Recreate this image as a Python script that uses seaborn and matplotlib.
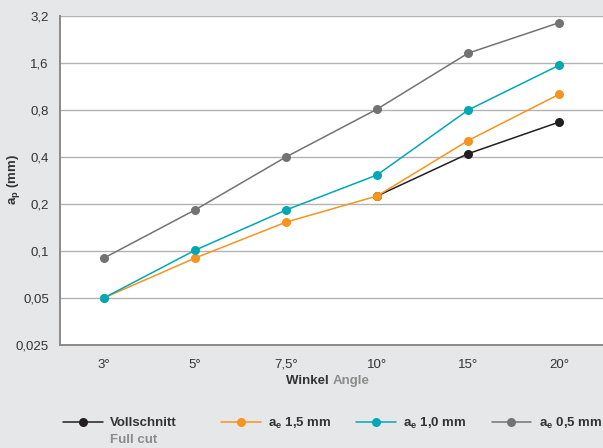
import matplotlib
matplotlib.use("Agg")
import matplotlib.pyplot as plt
from matplotlib.lines import Line2D
import numpy as np
import pandas as pd
import seaborn as sns

# ----- data -----
angles = ["3°", "5°", "7,5°", "10°", "15°", "20°"]
series_names = ["Vollschnitt", "$a_e$ 1,5 mm", "$a_e$ 1,0 mm", "$a_e$ 0,5 mm"]
full_cut = [None, None, None, 0.225, 0.42, 0.67]
ae_15 = [0.05, 0.09, 0.153, 0.225, 0.51, 1.01]
ae_10 = [0.05, 0.101, 0.183, 0.307, 0.80, 1.55]
ae_05 = [0.09, 0.183, 0.40, 0.81, 1.85, 2.9]
y_ticks = [0.025, 0.05, 0.1, 0.2, 0.4, 0.8, 1.6, 3.2]
y_tick_labels = ["0,025", "0,05", "0,1", "0,2", "0,4", "0,8", "1,6", "3,2"]

colors = ["#231f20", "#f7941d", "#00a8b5", "#737373"]
bg = "#e6e7e8"
grid_col = "#b3b3b3"
text_col = "#333333"
sub_col = "#8c8c8c"
fs = 9.5

sns.set_theme(style="white")
plt.rcParams["font.family"] = ["Liberation Sans", "DejaVu Sans"]
plt.rcParams["mathtext.default"] = "regular"

rows = []
for name, vals in zip(series_names, [full_cut, ae_15, ae_10, ae_05]):
    for i, v in enumerate(vals):
        if v is not None:
            rows.append({"pos": i, "ap": v, "series": name})
df = pd.DataFrame(rows)

W, H = 603, 448
fig = plt.figure(figsize=(W / 100, H / 100), dpi=100, facecolor=bg)
ax = fig.add_axes([60 / W, 1 - 345 / H, 1 - 60 / W, 329 / H])
ax.set_facecolor("white")

for name, col, z in zip(series_names, colors, [3, 4, 5, 6]):
    sns.lineplot(data=df[df["series"] == name], x="pos", y="ap", ax=ax,
                 color=col, marker="o", markersize=6.5, markeredgewidth=0,
                 linewidth=1.1, zorder=z, legend=False)

ax.set_yscale("log", base=2)
ax.set_ylim(y_ticks[0], y_ticks[-1])
ax.set_yticks(y_ticks)
ax.set_yticklabels(y_tick_labels)
ax.yaxis.set_minor_locator(matplotlib.ticker.NullLocator())
ax.set_xlim(-0.48, len(angles) - 0.52)
ax.set_xticks(np.arange(len(angles)))
ax.set_xticklabels(angles)

ax.grid(axis="y", color=grid_col, linewidth=1.0)
ax.set_axisbelow(True)
for s in ["top", "right"]:
    ax.spines[s].set_visible(False)
for s in ["left", "bottom"]:
    ax.spines[s].set_color("#8a8a8a")
    ax.spines[s].set_linewidth(1.4)
ax.tick_params(axis="both", labelsize=fs, labelcolor=text_col, colors=grid_col,
               length=4, width=1, direction="out", pad=6)
ax.tick_params(axis="y", pad=4)
ax.set_xlabel("")
ax.set_ylabel("")

fig.text(14 / W, 1 - 180 / H, "$a_p$ (mm)", rotation=90, ha="center", va="center",
         fontsize=fs, fontweight="bold", color=text_col)

# x label in two colours
fig.text(0.552, 1 - 381 / H, "Winkel ", ha="right", va="center",
         fontsize=fs, fontweight="bold", color=text_col)
fig.text(0.552, 1 - 381 / H, "Angle", ha="left", va="center",
         fontsize=fs, fontweight="bold", color=sub_col)

handles = [Line2D([], [], color=c, marker="o", markersize=6.5, markeredgewidth=0,
                  linewidth=1.1) for c in colors]
leg_kw = dict(frameon=False, prop={"size": fs, "weight": "bold"}, handlelength=3.0,
              handletextpad=0.55, borderpad=0, borderaxespad=0)
leg1 = fig.legend(handles[:1], series_names[:1], loc="center left",
                  bbox_to_anchor=(63 / W, 1 - 423 / H), **leg_kw)
leg2 = fig.legend(handles[1:], series_names[1:], loc="center left", ncol=3,
                  bbox_to_anchor=(221 / W, 1 - 423 / H), columnspacing=1.9, **leg_kw)
for leg in (leg1, leg2):
    for t in leg.get_texts():
        t.set_color(text_col)

fig.canvas.draw()
bb = leg1.get_texts()[0].get_window_extent().transformed(fig.transFigure.inverted())
fig.text(bb.x0, 1 - 440 / H, "Full cut", ha="left", va="center",
         fontsize=fs, fontweight="bold", color=sub_col)

fig.savefig("out.png", dpi=100, facecolor=bg)
